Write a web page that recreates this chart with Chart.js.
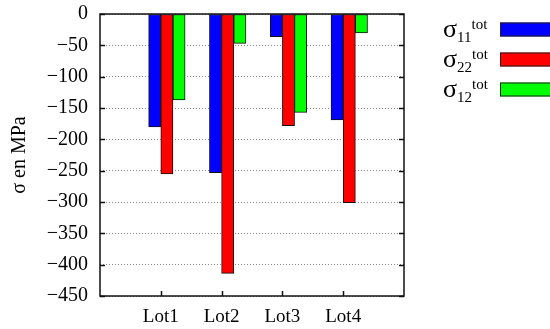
<!DOCTYPE html>
<html>
<head>
<meta charset="utf-8">
<script src="https://cdn.jsdelivr.net/npm/chart.js@4"></script>
<style>
  html, body { margin: 0; padding: 0; background: #fff; }
  #wrap { width: 550px; height: 329px; }
</style>
</head>
<body>
<div id="wrap"><canvas id="chart" width="550" height="329"></canvas></div>
<script>
const categories = ["Lot1", "Lot2", "Lot3", "Lot4"];
const sigma11 = [-180, -253, -36, -169];
const sigma22 = [-255, -414, -178, -301];
const sigma12 = [-137, -47, -157, -30];
const seriesSubs = ["11", "22", "12"];
const seriesColors = ["#0000ff", "#ff0000", "#00ff00"];
const yMin = -450, yMax = 0, yStep = 50;

const FONT = "'Liberation Serif', 'Times New Roman', serif";
const barSlot = 0.2; // cluster slot width in category units

// each series sits in its own slot of the cluster, starting just left of the tick
function toPoints(values, k) {
  return values.map((v, i) => ({ x: i + 1 + (k - 0.5) * barSlot, y: v }));
}

const allSeries = [sigma11, sigma22, sigma12];

// frame, inward ticks and legend (sub/superscripts) drawn by hand
const framePlugin = {
  id: "frame",
  afterDatasetsDraw(chart) {
    const { ctx, chartArea: a, scales } = chart;
    ctx.save();
    ctx.strokeStyle = "#111";
    ctx.lineWidth = 1.5;
    // inward tick marks
    ctx.beginPath();
    for (let v = yMin; v <= yMax; v += yStep) {
      const y = Math.round(scales.y.getPixelForValue(v)) + 0.5;
      ctx.moveTo(a.left, y); ctx.lineTo(a.left + 5, y);
      ctx.moveTo(a.right, y); ctx.lineTo(a.right - 5, y);
    }
    categories.forEach((c, i) => {
      const x = Math.round(scales.x.getPixelForValue(i + 1)) + 0.5;
      ctx.moveTo(x, a.bottom); ctx.lineTo(x, a.bottom - 5);
    });
    ctx.stroke();
    ctx.lineWidth = 1.5;
    ctx.strokeRect(a.left, a.top, a.right - a.left, a.bottom - a.top);

    // legend
    ctx.fillStyle = "#000";
    ctx.textBaseline = "alphabetic";
    seriesSubs.forEach((sub, k) => {
      const yc = 29.5 + k * 30;
      ctx.font = "26px " + FONT;
      ctx.fillText("σ", 443, yc + 7);
      const w = ctx.measureText("σ").width;
      ctx.font = "15px " + FONT;
      ctx.fillText(sub, 443 + w, yc + 12);
      const ws = ctx.measureText(sub).width;
      ctx.font = "15px " + FONT;
      ctx.fillText("tot", 443 + w + ws, yc - 1);
      ctx.fillStyle = seriesColors[k];
      ctx.fillRect(500, yc - 7, 60, 14);
      ctx.strokeStyle = "#222";
      ctx.lineWidth = 1;
      ctx.strokeRect(500.5, yc - 6.5, 60, 13);
      ctx.fillStyle = "#000";
    });
    ctx.restore();
  }
};

new Chart(document.getElementById("chart"), {
  type: "bar",
  data: {
    datasets: allSeries.map((vals, k) => ({
      label: "σ" + seriesSubs[k] + " tot",
      data: toPoints(vals, k),
      backgroundColor: seriesColors[k],
      borderColor: "#111",
      borderWidth: 1,
      borderSkipped: false,
      barPercentage: 1,
      categoryPercentage: 1,
      grouped: false
    }))
  },
  options: {
    responsive: false,
    animation: false,
    layout: { padding: { left: 0, right: 146, top: 14, bottom: 0 } },
    plugins: { legend: { display: false }, tooltip: { enabled: false } },
    scales: {
      x: {
        type: "linear",
        offset: false,
        min: 0,
        max: categories.length + 1,
        grid: { display: false },
        border: { display: false },
        afterFit: (s) => { s.height = 33; s.paddingLeft = 0; s.paddingRight = 0; },
        ticks: {
          stepSize: 1,
          padding: 2,
          color: "#000",
          font: { family: FONT, size: 19 },
          callback: (v) => categories[v - 1] || ""
        }
      },
      y: {
        min: yMin,
        max: yMax,
        afterFit: (s) => { s.width = 100; s.paddingTop = 0; s.paddingBottom = 0; },
        border: { display: false, dash: [1, 2] },
        grid: {
          color: "#888",
          drawTicks: false,
          lineWidth: 1
        },
        ticks: {
          stepSize: yStep,
          padding: 12,
          color: "#000",
          font: { family: FONT, size: 20 },
          callback: (v) => (v < 0 ? "\u2212" + Math.abs(v) : String(v))
        },
        title: {
          display: true,
          text: "σ en MPa",
          color: "#000",
          font: { family: FONT, size: 20 },
          padding: { top: 8, bottom: 0 }
        }
      }
    }
  },
  plugins: [framePlugin]
});
</script>
</body>
</html>
